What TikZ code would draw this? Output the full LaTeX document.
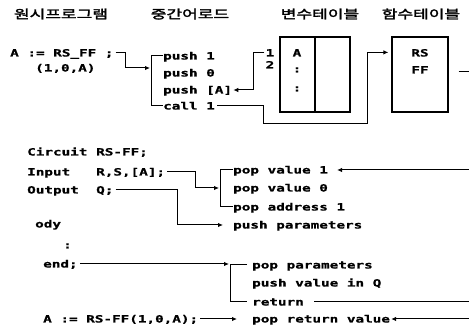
\documentclass[tikz,border=0pt]{standalone}
\usepackage{fontspec}
\usetikzlibrary{arrows.meta}
\newfontfamily\dvm[FakeStretch=1.43,FakeBold=0.8]{DejaVu Sans Mono}
\newfontfamily\krf[FakeStretch=1.42,FakeBold=2.4]{Noto Sans CJK KR}
\tikzset{
  t/.style={font=\dvm\bfseries\fontsize{10}{12}\selectfont, inner sep=0pt, anchor=west, text height=7pt, text depth=0pt},
  tc/.style={t, anchor=center},
  hd/.style={font=\krf\fontsize{12}{14}\selectfont, inner sep=0pt},
  tbl/.style={draw, line width=1.2pt, inner sep=0pt},
  ln/.style={line width=1pt},
  arr/.style={-{Latex[length=5pt,width=4.5pt]}},
}
\begin{document}
\begin{tikzpicture}[x=1pt,y=-1pt]
\useasboundingbox (0,0) rectangle (469,331);
% headers
\node[hd] (h1) at (61,14) {원시프로그램};
\node[hd] (h2) at (190,14) {중간어로드};
\node[hd] (h3) at (320,14) {변수테이블};
\node[hd] (h4) at (421,14) {함수테이블};
% source program
\node[t] (s1) at (10,53) {A := RS\_FF ;};
\node[t] (s2) at (35,68) {(1,0,A)};
% intermediate code
\node[t] (p1) at (163,56) {push 1};
\node[t] (p2) at (163,73) {push 0};
\node[t] (p3) at (163,90) {push [A]};
\node[t] (p4) at (163,106) {call 1};
% variable table
\node[tc] (n1) at (270,53) {1};
\node[tc] (n2) at (270,65) {2};
\node[tbl, minimum width=70pt, minimum height=75pt] (vtab) at (315,74.5) {};
\draw[line width=1.2pt] (vtab.north) -- (vtab.south);
\node[tc] (va) at (297,53) {A};
\node[tc] (vb) at (297,69) {:};
\node[tc] (vc) at (297,88) {:};
% function table
\node[tbl, minimum width=56pt, minimum height=75pt] (ftab) at (420,74.5) {};
\node[tc] (fa) at (420,53) {RS};
\node[tc] (fb) at (420,70) {FF};
% lower source
\node[t] (c1) at (27,152) {Circuit};
\node[t] (c2) at (96,152) {RS-FF;};
\node[t] (i1) at (27,172) {Input};
\node[t] (i2) at (96,172) {R,S,[A];};
\node[t] (o1) at (27,190) {Output};
\node[t] (o2) at (96,190) {Q;};
\node[t] (bd) at (35,224) {ody};
\node[t] (dt) at (63,245) {:};
\node[t] (en) at (43,264) {end;};
\node[t] (a1) at (43,319) {A := RS-FF(1,0,A);};
% lower code
\node[t] (q1) at (233,170) {pop value 1};
\node[t] (q2) at (233,188) {pop value 0};
\node[t] (q3) at (233,207) {pop address 1};
\node[t] (q4) at (233,225) {push parameters};
\node[t] (r1) at (252,265) {pop parameters};
\node[t] (r2) at (252,283) {push value in Q};
\node[t] (r3) at (252,302) {return};
\node[t] (r4) at (252,319) {pop return value};
% coordinates
\coordinate (b1) at (151,68);
\coordinate (b2) at (220,188);
\coordinate (b3) at (229,264);
\coordinate (e1) at (470,72);
\coordinate (e2) at (470,170);
\coordinate (e3) at (470,302);
\coordinate (e4) at (470,319);
% connectors
\draw[ln,arr,shorten <=2pt,shorten >=1pt] (s1.east) -- ++(12,0) |- (b1);
\draw[ln] (p1.west) -- ++(-12,0) |- (p4.west);
\draw[ln,arr,shorten <=1pt,shorten >=1pt] (n1.west) -- ++(-12,0) |- (p3.east);
\draw[ln,arr,shorten <=2pt,shorten >=3pt] (p4.east) -| (263,124) -- (367,124) |- ([yshift=-16pt]ftab.north west);
\draw[ln] ([xshift=10pt]ftab.east |- e1) -- (e1);
\draw[ln,arr,shorten <=2pt,shorten >=1pt] (i2.east) -- ++(30,0) |- (b2);
\draw[ln] (q1.west) -- ++(-13,0) |- (q3.west);
\draw[ln,arr,shorten <=2pt,shorten >=10pt] (o2.east) -- ++(64,0) |- (q4.west);
\draw[ln,arr,shorten <=2pt] (en.east) -- (b3);
\draw[ln,shorten <=5pt,shorten >=5pt] (r1.west) -- ++(-22,0) |- (r3.west);
\draw[ln] ([xshift=10pt]r3.east) -- (e3);
\draw[ln,arr,shorten <=2pt,shorten >=15pt] (a1.east) -- (r4.west);
\draw[ln,arr,shorten >=1pt] (e4) -- (r4.east);
\draw[ln,arr,shorten >=9pt] (e2) -- (q1.east);
\end{tikzpicture}
\end{document}
